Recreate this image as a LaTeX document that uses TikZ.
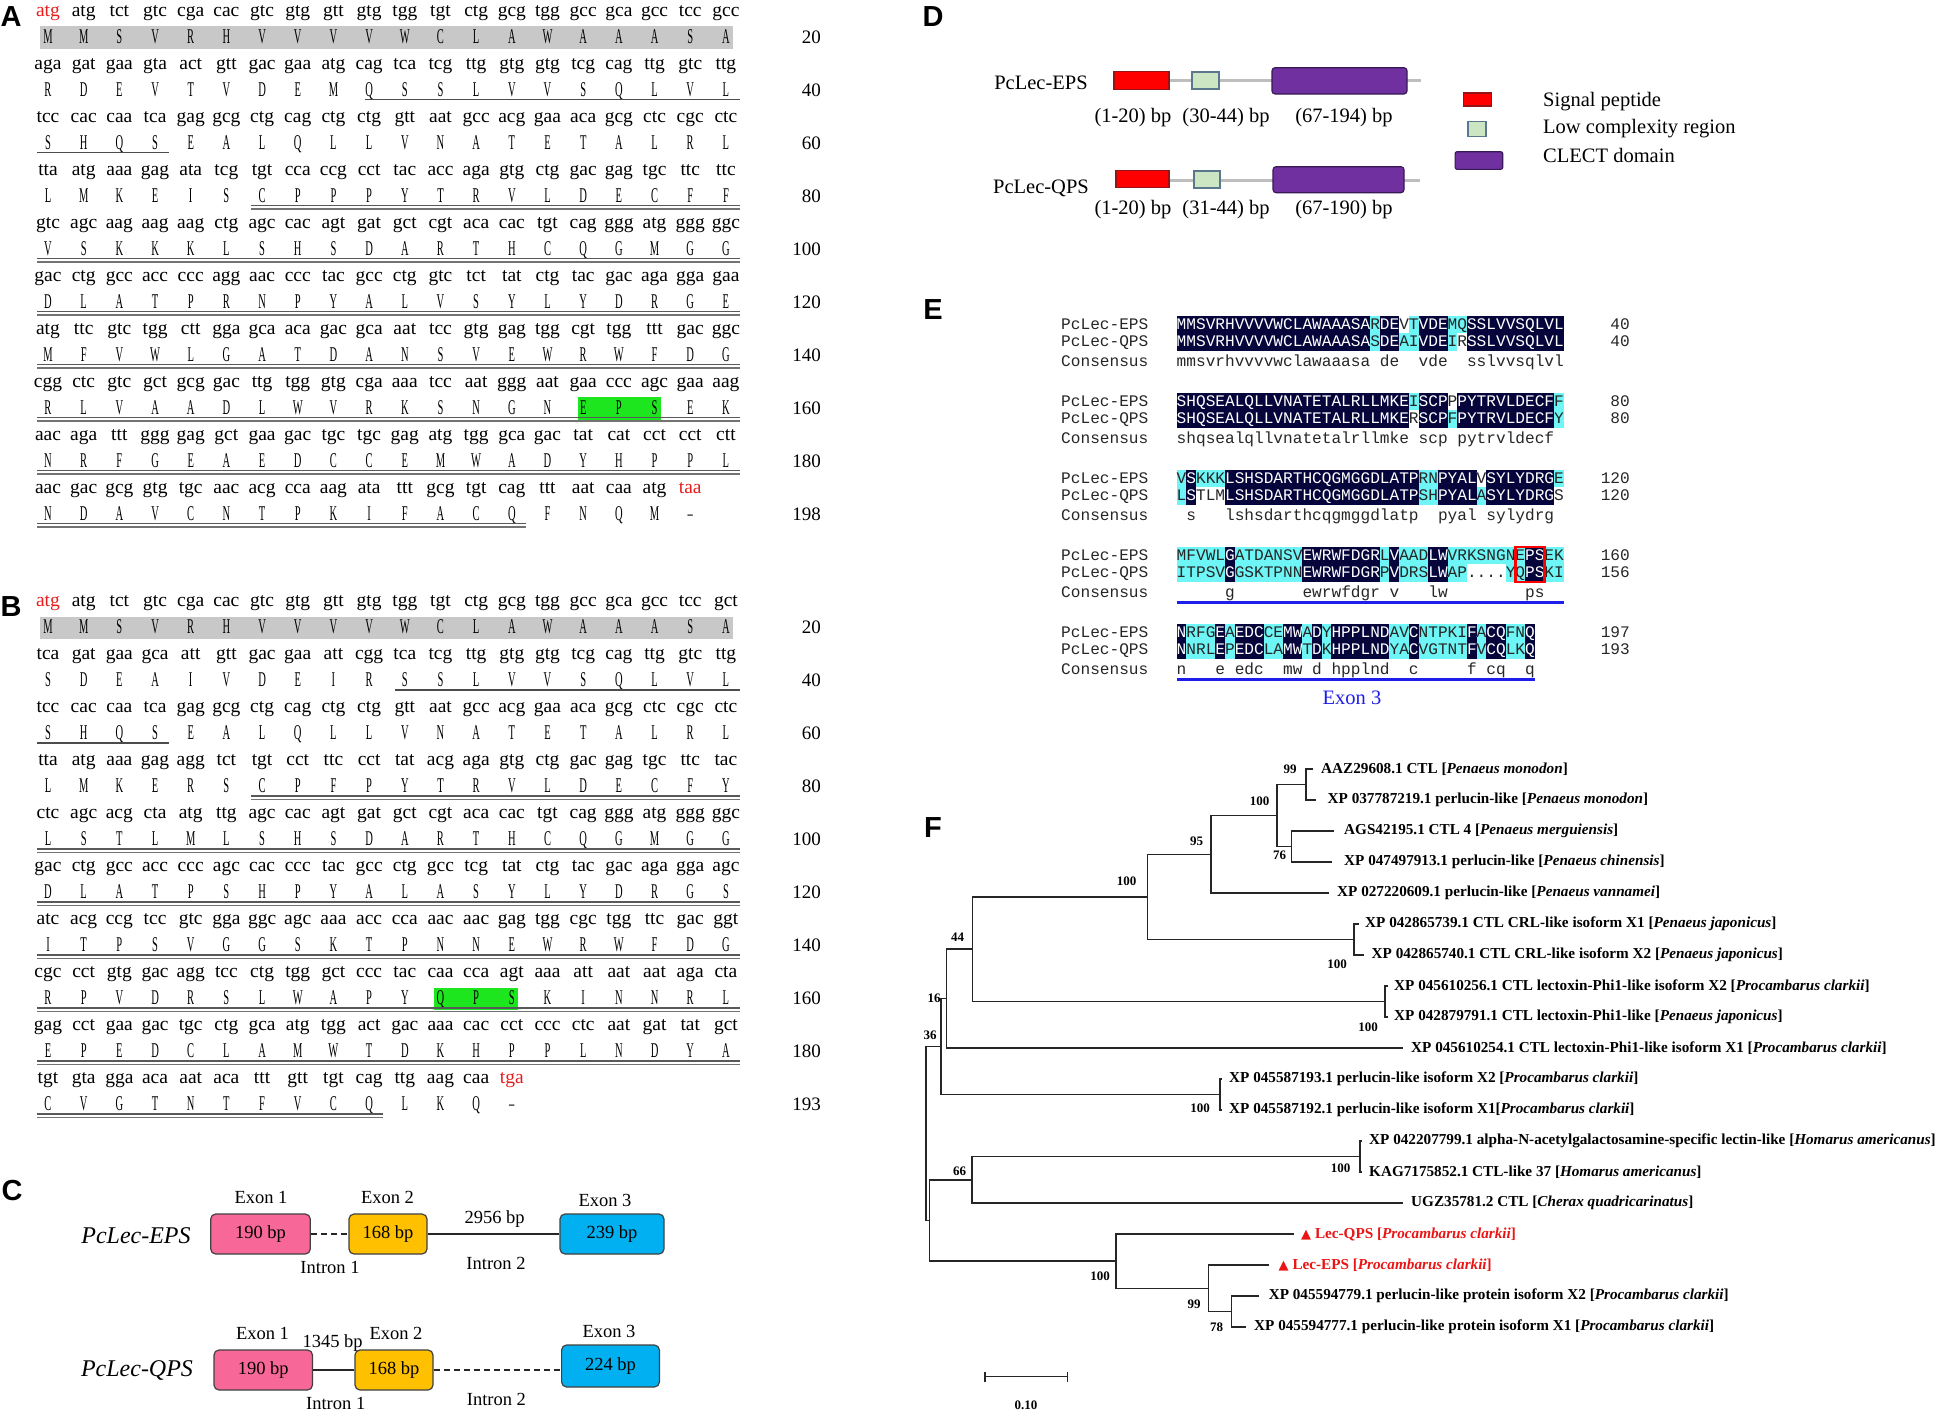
\documentclass[tikz,border=0pt]{standalone}
\usepackage{fontspec}
\setmainfont{Liberation Serif}
\newfontfamily\aafont[FakeStretch=0.5]{Liberation Serif}
\newfontfamily\alfont{Liberation Mono}
\newfontfamily\lblfont{Liberation Sans}
\newfontfamily\symfont{DejaVu Sans}
\definecolor{seqred}{RGB}{230,30,30}
\definecolor{boxgray}{RGB}{200,200,200}
\definecolor{boxgreen}{RGB}{30,230,30}
\definecolor{alnavy}{RGB}{5,5,60}
\definecolor{alcyan}{RGB}{110,245,245}
\definecolor{alblue}{RGB}{30,30,235}
\definecolor{expink}{RGB}{247,104,152}
\definecolor{exorange}{RGB}{255,192,0}
\definecolor{exblue}{RGB}{0,176,240}
\definecolor{dred}{RGB}{255,0,0}
\definecolor{dredb}{RGB}{150,20,20}
\definecolor{dgreen}{RGB}{204,230,196}
\definecolor{dgreenb}{RGB}{90,120,140}
\definecolor{dpurple}{RGB}{112,48,160}
\definecolor{dpurpleb}{RGB}{55,25,85}
\definecolor{dline}{RGB}{190,190,190}
\definecolor{treered}{RGB}{235,20,20}
\newcommand{\rc}[1]{\textcolor{seqred}{#1}}
\newcommand{\SeqPair}[6]{%
  \foreach \t [count=\i from 0] in {#4}
    \node[codon] (#1c#2-\i) at ({48+35.68*\i},{#3+16.3+53*#2}) {\t};
  \foreach \t [count=\i from 0] in {#5}
    \node[amino] (#1a#2-\i) at ({48+35.68*\i},{#3+43.3+53*#2}) {\t};
  \node[seqnum] (#1n#2) at (821,{#3+43.3+53*#2}) {#6};
}
\newcommand{\SqUl}[5]{%
  \draw[ulone] ({48+35.68*#3-#5},{#1+46.3+53*#2}) -- ({48+35.68*#4+14},{#1+46.3+53*#2});}
\newcommand{\SqDul}[4]{%
  \draw[ultwoa] ({48+35.68*#3-11},{#1+46.5+53*#2}) -- ({48+35.68*#4+14},{#1+46.5+53*#2});
  \draw[ultwob] ({48+35.68*#3-11},{#1+50+53*#2}) -- ({48+35.68*#4+14},{#1+50+53*#2});}
\newcommand{\AlX}{1176.5}
\newcommand{\AlW}{9.68}
\newcommand{\AlRow}[6]{%
  \foreach \a/\b in {#5}{\fill[alcyan] ({\AlX+\AlW*\a},{#2-8.75}) rectangle ({\AlX+\AlW*(\b+1)},{#2+8.75});}
  \node[altext] (#1) at (\AlX,{#2+4.6}) {#3};
  \foreach \a/\b in {#4}{\fill[alnavy] ({\AlX+\AlW*\a},{#2-8.75}) rectangle ({\AlX+\AlW*(\b+1)},{#2+8.75});}
  \begin{scope}
    \clip \foreach \a/\b in {#4}{({\AlX+\AlW*\a},{#2-8.75}) rectangle ({\AlX+\AlW*(\b+1)},{#2+8.75})};
    \node[altext,text=white] at (\AlX,{#2+4.6}) {#3};
  \end{scope}
  \node[alnum] (#1n) at (1630,{#2+4.6}) {#6};
}
\begin{document}
\begin{tikzpicture}[x=1pt,y=-1pt,
  panellbl/.style={inner sep=0pt,font=\lblfont\bfseries\fontsize{29}{33}\selectfont},
  codon/.style={anchor=base,inner sep=0pt,font=\fontsize{19.5}{22}\selectfont},
  amino/.style={anchor=base,inner sep=0pt,font=\aafont\fontsize{21}{24}\selectfont},
  seqnum/.style={anchor=base east,inner sep=0pt,font=\fontsize{19}{22}\selectfont},
  ulone/.style={line width=1.5pt,draw=black!70},
  ultwoa/.style={line width=1.8pt,draw=black!65},
  ultwob/.style={line width=1.3pt,draw=black!55},
  altext/.style={anchor=base west,inner sep=0pt,text=black!85,font=\alfont\fontsize{16.13}{19}\selectfont},
  alnum/.style={anchor=base east,inner sep=0pt,text=black!85,font=\alfont\fontsize{16.13}{19}\selectfont},
  exbox/.style={draw=black!75,line width=1.2pt,rounded corners=5pt,inner sep=0pt,font=\fontsize{18.5}{22}\selectfont},
  ctext/.style={inner sep=0pt,font=\fontsize{18.5}{22}\selectfont},
  cname/.style={inner sep=0pt,font=\itshape\fontsize{24}{28}\selectfont},
  dtext/.style={inner sep=0pt,font=\fontsize{20.5}{24}\selectfont},
  dbox/.style={inner sep=0pt,line width=1.1pt},
  intron/.style={line width=1.5pt,draw=black!85},
  treeline/.style={line width=1.5pt,draw=black!85},
  tiplbl/.style={anchor=west,inner sep=0pt,font=\bfseries\fontsize{15.2}{18}\selectfont},
  bootlbl/.style={inner sep=0pt,font=\bfseries\fontsize{13}{15}\selectfont}]
\fill[white] (0,0) rectangle (1942,1413);
\useasboundingbox (0,0) rectangle (1942,1413);

% ---------- panel labels
\node[panellbl] (labA) at (11,17) {A};
\node[panellbl] (labB) at (11,607) {B};
\node[panellbl] (labC) at (12,1190) {C};
\node[panellbl] (labD) at (933,17) {D};
\node[panellbl] (labE) at (933,310) {E};
\node[panellbl] (labF) at (933,828) {F};

% ---------- panel A
\fill[boxgray] (40,26.3) rectangle (733,48.8);
\fill[boxgreen] (578,397.3) rectangle (661,419.8);
\SeqPair{A}{0}{0}{\rc{atg},atg,tct,gtc,cga,cac,gtc,gtg,gtt,gtg,tgg,tgt,ctg,gcg,tgg,gcc,gca,gcc,tcc,gcc}{M,M,S,V,R,H,V,V,V,V,W,C,L,A,W,A,A,A,S,A}{20}
\SeqPair{A}{1}{0}{aga,gat,gaa,gta,act,gtt,gac,gaa,atg,cag,tca,tcg,ttg,gtg,gtg,tcg,cag,ttg,gtc,ttg}{R,D,E,V,T,V,D,E,M,Q,S,S,L,V,V,S,Q,L,V,L}{40}
\SeqPair{A}{2}{0}{tcc,cac,caa,tca,gag,gcg,ctg,cag,ctg,ctg,gtt,aat,gcc,acg,gaa,aca,gcg,ctc,cgc,ctc}{S,H,Q,S,E,A,L,Q,L,L,V,N,A,T,E,T,A,L,R,L}{60}
\SeqPair{A}{3}{0}{tta,atg,aaa,gag,ata,tcg,tgt,cca,ccg,cct,tac,acc,aga,gtg,ctg,gac,gag,tgc,ttc,ttc}{L,M,K,E,I,S,C,P,P,P,Y,T,R,V,L,D,E,C,F,F}{80}
\SeqPair{A}{4}{0}{gtc,agc,aag,aag,aag,ctg,agc,cac,agt,gat,gct,cgt,aca,cac,tgt,cag,ggg,atg,ggg,ggc}{V,S,K,K,K,L,S,H,S,D,A,R,T,H,C,Q,G,M,G,G}{100}
\SeqPair{A}{5}{0}{gac,ctg,gcc,acc,ccc,agg,aac,ccc,tac,gcc,ctg,gtc,tct,tat,ctg,tac,gac,aga,gga,gaa}{D,L,A,T,P,R,N,P,Y,A,L,V,S,Y,L,Y,D,R,G,E}{120}
\SeqPair{A}{6}{0}{atg,ttc,gtc,tgg,ctt,gga,gca,aca,gac,gca,aat,tcc,gtg,gag,tgg,cgt,tgg,ttt,gac,ggc}{M,F,V,W,L,G,A,T,D,A,N,S,V,E,W,R,W,F,D,G}{140}
\SeqPair{A}{7}{0}{cgg,ctc,gtc,gct,gcg,gac,ttg,tgg,gtg,cga,aaa,tcc,aat,ggg,aat,gaa,ccc,agc,gaa,aag}{R,L,V,A,A,D,L,W,V,R,K,S,N,G,N,E,P,S,E,K}{160}
\SeqPair{A}{8}{0}{aac,aga,ttt,ggg,gag,gct,gaa,gac,tgc,tgc,gag,atg,tgg,gca,gac,tat,cat,cct,cct,ctt}{N,R,F,G,E,A,E,D,C,C,E,M,W,A,D,Y,H,P,P,L}{180}
\SeqPair{A}{9}{0}{aac,gac,gcg,gtg,tgc,aac,acg,cca,aag,ata,ttt,gcg,tgt,cag,ttt,aat,caa,atg,\rc{taa}}{N,D,A,V,C,N,T,P,K,I,F,A,C,Q,F,N,Q,M,\textendash}{198}
\SqUl{0}{1}{9}{19}{4}
\SqUl{0}{2}{0}{3}{11}
\SqDul{0}{3}{6}{19}
\SqDul{0}{4}{0}{19}
\SqDul{0}{5}{0}{19}
\SqDul{0}{6}{0}{19}
\SqDul{0}{7}{0}{19}
\SqDul{0}{8}{0}{19}
\SqDul{0}{9}{0}{13}

% ---------- panel B
\fill[boxgray] (40,616.8) rectangle (733,639.3);
\fill[boxgreen] (433.5,987.8) rectangle (518,1010.3);
\SeqPair{B}{0}{590.5}{\rc{atg},atg,tct,gtc,cga,cac,gtc,gtg,gtt,gtg,tgg,tgt,ctg,gcg,tgg,gcc,gca,gcc,tcc,gct}{M,M,S,V,R,H,V,V,V,V,W,C,L,A,W,A,A,A,S,A}{20}
\SeqPair{B}{1}{590.5}{tca,gat,gaa,gca,att,gtt,gac,gaa,att,cgg,tca,tcg,ttg,gtg,gtg,tcg,cag,ttg,gtc,ttg}{S,D,E,A,I,V,D,E,I,R,S,S,L,V,V,S,Q,L,V,L}{40}
\SeqPair{B}{2}{590.5}{tcc,cac,caa,tca,gag,gcg,ctg,cag,ctg,ctg,gtt,aat,gcc,acg,gaa,aca,gcg,ctc,cgc,ctc}{S,H,Q,S,E,A,L,Q,L,L,V,N,A,T,E,T,A,L,R,L}{60}
\SeqPair{B}{3}{590.5}{tta,atg,aaa,gag,agg,tct,tgt,cct,ttc,cct,tat,acg,aga,gtg,ctg,gac,gag,tgc,ttc,tac}{L,M,K,E,R,S,C,P,F,P,Y,T,R,V,L,D,E,C,F,Y}{80}
\SeqPair{B}{4}{590.5}{ctc,agc,acg,cta,atg,ttg,agc,cac,agt,gat,gct,cgt,aca,cac,tgt,cag,ggg,atg,ggg,ggc}{L,S,T,L,M,L,S,H,S,D,A,R,T,H,C,Q,G,M,G,G}{100}
\SeqPair{B}{5}{590.5}{gac,ctg,gcc,acc,ccc,agc,cac,ccc,tac,gcc,ctg,gcc,tcg,tat,ctg,tac,gac,aga,gga,agc}{D,L,A,T,P,S,H,P,Y,A,L,A,S,Y,L,Y,D,R,G,S}{120}
\SeqPair{B}{6}{590.5}{atc,acg,ccg,tcc,gtc,gga,ggc,agc,aaa,acc,cca,aac,aac,gag,tgg,cgc,tgg,ttc,gac,ggt}{I,T,P,S,V,G,G,S,K,T,P,N,N,E,W,R,W,F,D,G}{140}
\SeqPair{B}{7}{590.5}{cgc,cct,gtg,gac,agg,tcc,ctg,tgg,gct,ccc,tac,caa,cca,agt,aaa,att,aat,aat,aga,cta}{R,P,V,D,R,S,L,W,A,P,Y,Q,P,S,K,I,N,N,R,L}{160}
\SeqPair{B}{8}{590.5}{gag,cct,gaa,gac,tgc,ctg,gca,atg,tgg,act,gac,aaa,cac,cct,ccc,ctc,aat,gat,tat,gct}{E,P,E,D,C,L,A,M,W,T,D,K,H,P,P,L,N,D,Y,A}{180}
\SeqPair{B}{9}{590.5}{tgt,gta,gga,aca,aat,aca,ttt,gtt,tgt,cag,ttg,aag,caa,\rc{tga}}{C,V,G,T,N,T,F,V,C,Q,L,K,Q,\textendash}{193}
\SqUl{590.5}{1}{10}{19}{10}
\SqUl{590.5}{2}{0}{3}{11}
\SqDul{590.5}{3}{6}{19}
\SqDul{590.5}{4}{0}{19}
\SqDul{590.5}{5}{0}{19}
\SqDul{590.5}{6}{0}{19}
\SqDul{590.5}{7}{0}{19}
\SqDul{590.5}{8}{0}{19}
\SqDul{590.5}{9}{0}{9}

% ---------- panel C
\node[exbox,fill=expink,minimum width=99.6pt,minimum height=40pt] (ce1) at (260.5,1234) {190 bp};
\node[exbox,fill=exorange,minimum width=78pt,minimum height=40pt] (ce2) at (388,1234) {168 bp};
\node[exbox,fill=exblue,minimum width=104pt,minimum height=40pt] (ce3) at (612,1234) {239 bp};
\draw[intron,dash pattern=on 6pt off 4pt] (ce1.east) -- (ce2.west);
\draw[intron] (ce2.east) -- (ce3.west);
\node[cname] (cnE) at (136,1236) {PcLec-EPS};
\node[ctext] (cx1E) at (261,1197) {Exon 1};
\node[ctext] (cx2E) at (387.5,1197) {Exon 2};
\node[ctext] (cx3E) at (605,1200) {Exon 3};
\node[ctext] (cbpE) at (494.6,1219) {2956 bp};
\node[ctext] (ci1E) at (330,1267) {Intron 1};
\node[ctext] (ci2E) at (496,1263) {Intron 2};
\node[exbox,fill=expink,minimum width=98.5pt,minimum height=40pt] (cq1) at (263.25,1370) {190 bp};
\node[exbox,fill=exorange,minimum width=78pt,minimum height=40pt] (cq2) at (394,1370) {168 bp};
\node[exbox,fill=exblue,minimum width=97.8pt,minimum height=42pt] (cq3) at (610.5,1366) {224 bp};
\draw[intron] (cq1.east) -- (cq2.west);
\draw[intron,dash pattern=on 6pt off 4pt] (cq2.east) -- (cq3.west |- cq2.east);
\node[cname] (cnQ) at (137,1370) {PcLec-QPS};
\node[ctext] (cx1Q) at (262.5,1333) {Exon 1};
\node[ctext] (cbpQ) at (332.6,1342.7) {1345 bp};
\node[ctext] (cx2Q) at (396,1333) {Exon 2};
\node[ctext] (cx3Q) at (609,1331) {Exon 3};
\node[ctext] (ci1Q) at (335.7,1403) {Intron 1};
\node[ctext] (ci2Q) at (496.4,1399) {Intron 2};

% ---------- panel D
\coordinate (dEa) at (1141.5,80.5);
\coordinate (dEb) at (1421,80.5);
\draw[dline,line width=3pt] (dEa) -- (dEb);
\node[dbox,fill=dred,draw=dredb,minimum width=55pt,minimum height=17.6pt] (dEsig) at (1141.5,80.5) {};
\node[dbox,fill=dgreen,draw=dgreenb,minimum width=27pt,minimum height=17pt] (dElc) at (1205.5,80.5) {};
\node[dbox,fill=dpurple,draw=dpurpleb,rounded corners=3pt,minimum width=135pt,minimum height=26.3pt] (dEcl) at (1339.5,80.85) {};
\node[dtext] (dEn) at (1041,83.3) {PcLec-EPS};
\node[dtext] (dEl1) at (1133,118) {(1-20) bp};
\node[dtext] (dEl2) at (1226,118) {(30-44) bp};
\node[dtext] (dEl3) at (1344,118) {(67-194) bp};
\coordinate (dQa) at (1142.5,180);
\coordinate (dQb) at (1420,180);
\draw[dline,line width=3pt] (dQa) -- (dQb);
\node[dbox,fill=dred,draw=dredb,minimum width=53pt,minimum height=16.6pt] (dQsig) at (1142.5,179) {};
\node[dbox,fill=dgreen,draw=dgreenb,minimum width=26pt,minimum height=17pt] (dQlc) at (1207,179.5) {};
\node[dbox,fill=dpurple,draw=dpurpleb,rounded corners=3pt,minimum width=131pt,minimum height=26pt] (dQcl) at (1338.5,179.7) {};
\node[dtext] (dQn) at (1041,188.3) {PcLec-QPS};
\node[dtext] (dQl1) at (1133,210) {(1-20) bp};
\node[dtext] (dQl2) at (1226,210) {(31-44) bp};
\node[dtext] (dQl3) at (1344,210) {(67-190) bp};
\node[dbox,fill=dred,draw=dredb,minimum width=28pt,minimum height=13pt] (dLsig) at (1477.5,99.5) {};
\node[dbox,fill=dgreen,draw=dgreenb,minimum width=18pt,minimum height=14.3pt] (dLlc) at (1477,128.9) {};
\node[dbox,fill=dpurple,draw=dpurpleb,rounded corners=2pt,minimum width=47.7pt,minimum height=17.6pt] (dLcl) at (1478.9,160.5) {};
\node[dtext,anchor=west] (dLt1) at (1543,102) {Signal peptide};
\node[dtext,anchor=west] (dLt2) at (1543,129) {Low complexity region};
\node[dtext,anchor=west] (dLt3) at (1543,155) {CLECT domain};

% ---------- panel E
\node[altext] (eLE1) at (1061,329.1) {PcLec-EPS};
\node[altext] (eLQ1) at (1061,346.6) {PcLec-QPS};
\node[altext] (eLC1) at (1061,366) {Consensus};
\AlRow{e1E}{324.5}{MMSVRHVVVVWCLAWAAASARDEVTVDEMQSSLVVSQLVL}{0/19,21/22,25/27,30/39}{20/20,24/24,28/29}{40}
\AlRow{e1Q}{342}{MMSVRHVVVVWCLAWAAASASDEAIVDEIRSSLVVSQLVL}{0/19,21/22,25/27,30/39}{20/20,23/24,28/28}{40}
\node[altext] (e1C) at (\AlX,366) {mmsvrhvvvvwclawaaasa~de~~vde~~sslvvsqlvl};

\node[altext] (eLE2) at (1061,406.1) {PcLec-EPS};
\node[altext] (eLQ2) at (1061,423.6) {PcLec-QPS};
\node[altext] (eLC2) at (1061,443) {Consensus};
\AlRow{e2E}{401.5}{SHQSEALQLLVNATETALRLLMKEISCPPPYTRVLDECFF}{0/23,25/27,29/38}{24/24,39/39}{80}
\AlRow{e2Q}{419}{SHQSEALQLLVNATETALRLLMKERSCPFPYTRVLDECFY}{0/23,25/27,29/38}{28/28,39/39}{80}
\node[altext] (e2C) at (\AlX,443) {shqsealqllvnatetalrllmke~scp~pytrvldecf};

\node[altext] (eLE3) at (1061,483.1) {PcLec-EPS};
\node[altext] (eLQ3) at (1061,500.6) {PcLec-QPS};
\node[altext] (eLC3) at (1061,520) {Consensus};
\AlRow{e3E}{478.5}{VSKKKLSHSDARTHCQGMGGDLATPRNPYALVSYLYDRGE}{1/1,5/24,27/30,32/38}{0/0,2/4,25/26,39/39}{120}
\AlRow{e3Q}{496}{LSTLMLSHSDARTHCQGMGGDLATPSHPYALASYLYDRGS}{1/1,5/24,27/30,32/38}{0/0,25/26,31/31}{120}
\node[altext] (e3C) at (\AlX,520) {~s~~~lshsdarthcqgmggdlatp~~pyal~sylydrg};

\node[altext] (eLE4) at (1061,560.1) {PcLec-EPS};
\node[altext] (eLQ4) at (1061,577.6) {PcLec-QPS};
\node[altext] (eLC4) at (1061,597) {Consensus};
\AlRow{e4E}{555.5}{MFVWLGATDANSVEWRWFDGRLVAADLWVRKSNGNEPSEK}{5/5,13/20,22/22,26/27,36/37}{0/4,6/12,21/21,23/25,28/35,38/39}{160}
\AlRow{e4Q}{573}{ITPSVGGSKTPNNEWRWFDGRPVDRSLWAP....YQPSKI}{5/5,13/20,22/22,26/27,36/37}{0/4,6/12,21/21,23/25,28/29,34/35,38/39}{156}
\node[altext] (e4C) at (\AlX,597) {~~~~~g~~~~~~~ewrwfdgr~v~~~lw~~~~~~~~ps};
\draw[dred,line width=2.4pt] (1515.3,546.75) rectangle (1544.3,581.75);
\draw[alblue,line width=2.5pt] (1176.5,602.5) -- (1563.7,602.5);

\node[altext] (eLE5) at (1061,637.1) {PcLec-EPS};
\node[altext] (eLQ5) at (1061,654.6) {PcLec-QPS};
\node[altext] (eLC5) at (1061,674) {Consensus};
\AlRow{e5E}{632.5}{NRFGEAEDCCEMWADYHPPLNDAVCNTPKIFACQFNQ}{0/0,4/4,6/8,11/12,14/14,16/21,24/24,30/30,32/33,36/36}{1/3,5/5,9/10,13/13,15/15,22/23,25/29,31/31,34/35}{197}
\AlRow{e5Q}{650}{NNRLEPEDCLAMWTDKHPPLNDYACVGTNTFVCQLKQ}{0/0,4/4,6/8,11/12,14/14,16/21,24/24,30/30,32/33,36/36}{1/3,5/5,9/10,13/13,15/15,22/23,25/29,31/31,34/35}{193}
\node[altext] (e5C) at (\AlX,674) {n~~~e~edc~~mw~d~hpplnd~~c~~~~~f~cq~~q};
\draw[alblue,line width=2.5pt] (1176.5,679.5) -- (1534.7,679.5);
\node[inner sep=0pt,text=alblue,font=\fontsize{20.5}{24}\selectfont] (eEx3) at (1352,697.5) {Exon 3};

% ---------- panel F (tree)
\coordinate (t0) at (1312.5,769);  \coordinate (t1) at (1316,800);
\coordinate (t2) at (1334,831);    \coordinate (t3) at (1332,862);
\coordinate (t4) at (1329,893);    \coordinate (t5) at (1359,924);
\coordinate (t6) at (1363.6,955);  \coordinate (t7) at (1388,986);
\coordinate (t8) at (1388,1017);   \coordinate (t9) at (1403,1048);
\coordinate (t10) at (1222,1079);  \coordinate (t11) at (1222,1110);
\coordinate (t12) at (1362,1141);  \coordinate (t13) at (1362,1172);
\coordinate (t14) at (1403,1203);  \coordinate (t15) at (1293.5,1234);
\coordinate (t16) at (1268.6,1265);\coordinate (t17) at (1259,1296);
\coordinate (t18) at (1246,1327);
\coordinate (n12) at (1306,784.5);
\coordinate (n34) at (1291.6,846.5);
\coordinate (nC) at (1277,815.5);
\coordinate (nD) at (1211,854.25);
\coordinate (n67) at (1354,939.5);
\coordinate (nE) at (1147.5,896.9);
\coordinate (n89) at (1385,1001.5);
\coordinate (nF) at (972.6,949.2);
\coordinate (nG) at (946.4,998.6);
\coordinate (n1112) at (1220,1094.5);
\coordinate (nH) at (941,1046.5);
\coordinate (n1314) at (1360,1156.5);
\coordinate (n66) at (972,1179.75);
\coordinate (nL) at (1231.3,1311.5);
\coordinate (nK) at (1208.4,1288.25);
\coordinate (nJ) at (1116,1261.1);
\coordinate (nI) at (929.4,1220.4);
\coordinate (nR) at (926,1133.5);
\draw[treeline] (t0) -| (n12) |- (t1);
\draw[treeline] (t2) -| (n34) |- (t3);
\draw[treeline] (n12) -| (nC) |- (n34);
\draw[treeline] (nC) -| (nD) |- (t4);
\draw[treeline] (t5) -| (n67) |- (t6);
\draw[treeline] (nD) -| (nE) |- (n67);
\draw[treeline] (t7) -| (n89) |- (t8);
\draw[treeline] (nE) -| (nF) |- (n89);
\draw[treeline] (nF) -| (nG) |- (t9);
\draw[treeline] (t10) -| (n1112) |- (t11);
\draw[treeline] (nG) -| (nH) |- (n1112);
\draw[treeline] (t12) -| (n1314) |- (t13);
\draw[treeline] (n1314) -| (n66) |- (t14);
\draw[treeline] (t17) -| (nL) |- (t18);
\draw[treeline] (t16) -| (nK) |- (nL);
\draw[treeline] (t15) -| (nJ) |- (nK);
\draw[treeline] (n66) -| (nI) |- (nJ);
\draw[treeline] (nH) -| (nR) |- (nI);

\node[tiplbl] (L0) at (1321,769) {AAZ29608.1 CTL [\textit{Penaeus monodon}]};
\node[tiplbl] (L1) at (1327.5,800) {XP 037787219.1 perlucin-like [\textit{Penaeus monodon}]};
\node[tiplbl] (L2) at (1344,831) {AGS42195.1 CTL 4 [\textit{Penaeus merguiensis}]};
\node[tiplbl] (L3) at (1344,862) {XP 047497913.1 perlucin-like [\textit{Penaeus chinensis}]};
\node[tiplbl] (L4) at (1337,893) {XP 027220609.1 perlucin-like [\textit{Penaeus vannamei}]};
\node[tiplbl] (L5) at (1365,924) {XP 042865739.1 CTL CRL-like isoform X1 [\textit{Penaeus japonicus}]};
\node[tiplbl] (L6) at (1371.5,955) {XP 042865740.1 CTL CRL-like isoform X2 [\textit{Penaeus japonicus}]};
\node[tiplbl] (L7) at (1394,986) {XP 045610256.1 CTL lectoxin-Phi1-like isoform X2 [\textit{Procambarus clarkii}]};
\node[tiplbl] (L8) at (1394,1017) {XP 042879791.1 CTL lectoxin-Phi1-like [\textit{Penaeus japonicus}]};
\node[tiplbl] (L9) at (1411,1048) {XP 045610254.1 CTL lectoxin-Phi1-like isoform X1 [\textit{Procambarus clarkii}]};
\node[tiplbl] (L10) at (1229,1079) {XP 045587193.1 perlucin-like isoform X2 [\textit{Procambarus clarkii}]};
\node[tiplbl] (L11) at (1229,1110) {XP 045587192.1 perlucin-like isoform X1[\textit{Procambarus clarkii}]};
\node[tiplbl] (L12) at (1369,1141) {XP 042207799.1 alpha-N-acetylgalactosamine-specific lectin-like [\textit{Homarus americanus}]};
\node[tiplbl] (L13) at (1369,1172) {KAG7175852.1 CTL-like 37 [\textit{Homarus americanus}]};
\node[tiplbl] (L14) at (1411,1203) {UGZ35781.2 CTL [\textit{Cherax quadricarinatus}]};
\node[tiplbl,text=treered] (L15) at (1301,1234) {{\symfont\fontsize{13}{15}\selectfont ▲} Lec-QPS [\textit{Procambarus clarkii}]};
\node[tiplbl,text=treered] (L16) at (1278.5,1265) {{\symfont\fontsize{13}{15}\selectfont ▲} Lec-EPS [\textit{Procambarus clarkii}]};
\node[tiplbl] (L17) at (1268.6,1296) {XP 045594779.1 perlucin-like protein isoform X2 [\textit{Procambarus clarkii}]};
\node[tiplbl] (L18) at (1254,1327) {XP 045594777.1 perlucin-like protein isoform X1 [\textit{Procambarus clarkii}]};

\node[bootlbl] (b12) at (1290,769) {99};
\node[bootlbl] (bC) at (1259.5,801) {100};
\node[bootlbl] (b34) at (1279.5,855) {76};
\node[bootlbl] (bD) at (1196.5,841) {95};
\node[bootlbl] (bE) at (1126.5,881.7) {100};
\node[bootlbl] (b67) at (1337,964) {100};
\node[bootlbl] (bF) at (957.5,937.7) {44};
\node[bootlbl] (b89) at (1368,1027.7) {100};
\node[bootlbl] (bG) at (934,998) {16};
\node[bootlbl] (bH) at (930,1035) {36};
\node[bootlbl] (b1112) at (1200,1108) {100};
\node[bootlbl] (b1314) at (1340.5,1168) {100};
\node[bootlbl] (b66) at (959.5,1171) {66};
\node[bootlbl] (bJ) at (1100,1276) {100};
\node[bootlbl] (bK) at (1194,1304.3) {99};
\node[bootlbl] (bL) at (1216.5,1327.7) {78};

\coordinate (sb1) at (985,1376.7);
\coordinate (sb2) at (1067.6,1376.7);
\draw[treeline] (sb1) -- (sb2);
\draw[treeline] ([yshift=-5pt]sb1) -- ([yshift=5pt]sb1);
\draw[treeline] ([yshift=-5pt]sb2) -- ([yshift=5pt]sb2);
\node[bootlbl] (sbl) at (1026,1405) {0.10};
\end{tikzpicture}
\end{document}
